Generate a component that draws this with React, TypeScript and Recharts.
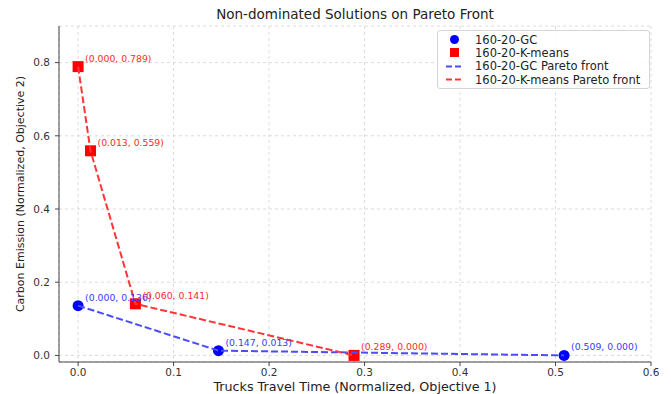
import {
  ScatterChart,
  Scatter,
  XAxis,
  YAxis,
  CartesianGrid,
  Legend,
} from 'recharts';

const gcX = [0.0, 0.147, 0.509];
const gcY = [0.136, 0.013, 0.0];
const kmX = [0.0, 0.013, 0.06, 0.289];
const kmY = [0.789, 0.559, 0.141, 0.0];

const xTicks = [0, 0.1, 0.2, 0.3, 0.4, 0.5, 0.6];
const yTicks = [0, 0.2, 0.4, 0.6, 0.8];

const seriesNames = ['160-20-GC', '160-20-K-means', '160-20-GC Pareto front', '160-20-K-means Pareto front'];

const gcData = gcX.map((x, i) => ({ x, y: gcY[i] }));
const kmData = kmX.map((x, i) => ({ x, y: kmY[i] }));

const FONT = '"DejaVu Sans", sans-serif';
const BLUE = '#0000ff';
const RED = '#ff0000';
const BLUE_LINE = '#4b4bff';
const RED_LINE = '#ff3535';
const AXIS = '#444';

const Circle = (props: any) => <circle cx={props.cx} cy={props.cy} r={5.5} fill={BLUE} />;
const Square = (props: any) => (
  <rect x={props.cx - 5.5} y={props.cy - 5.5} width={11} height={11} fill={RED} />
);
const NoMark = () => <g />;

const annotate = (color: string) => (props: any) => {
  const p = props.payload;
  return (
    <text x={props.cx + 7} y={props.cy - 5} fontSize={9.3} fill={color} fontFamily={FONT}>
      {`(${p.x.toFixed(3)}, ${p.y.toFixed(3)})`}
    </text>
  );
};

const LegendBox = () => (
  <div
    style={{
      border: '1px solid #d4d4d4',
      borderRadius: 3,
      background: 'rgba(255,255,255,0.85)',
      padding: '2px 0',
      fontFamily: FONT,
      fontSize: 11.5,
      color: '#222',
    }}
  >
    {seriesNames.map((name, i) => (
      <div key={name} style={{ display: 'flex', alignItems: 'center', height: 13.3 }}>
        <svg width={37} height={13} style={{ flex: 'none' }}>
          {i === 0 && <circle cx={16.5} cy={6.5} r={4.5} fill={BLUE} />}
          {i === 1 && <rect x={12} y={2} width={9} height={9} fill={RED} />}
          {i > 1 && (
            <line x1={8} x2={25} y1={6.5} y2={6.5} stroke={i === 2 ? BLUE_LINE : RED_LINE} strokeWidth={2} strokeDasharray="6 3" />
          )}
        </svg>
        <span style={{ whiteSpace: 'nowrap' }}>{name}</span>
      </div>
    ))}
  </div>
);

export default function App() {
  return (
    <div style={{ position: 'absolute', left: 0, top: 0, width: 671, height: 394, background: '#fff' }}>
      <div
        style={{
          position: 'absolute',
          left: 59,
          width: 592,
          top: 6,
          textAlign: 'center',
          fontFamily: FONT,
          fontSize: 13.5,
          lineHeight: '16px',
          color: '#222',
        }}
      >
        Non-dominated Solutions on Pareto Front
      </div>
      <ScatterChart width={671} height={394} margin={{ top: 26, right: 20, left: 0, bottom: 0 }}>
        <CartesianGrid stroke="#dcdcdc" strokeDasharray="3 3" />
        <XAxis
          dataKey="x"
          type="number"
          domain={[-0.02, 0.6]}
          ticks={xTicks}
          allowDataOverflow
          height={32}
          tickFormatter={(v: number) => v.toFixed(1)}
          tick={{ fontSize: 10.5, fill: '#333', fontFamily: FONT }}
          tickSize={4}
          tickMargin={3}
          stroke={AXIS}
          label={{
            value: 'Trucks Travel Time (Normalized, Objective 1)',
            position: 'insideBottom',
            offset: 3,
            style: { fontSize: 12.7, fill: '#222', fontFamily: FONT },
          }}
        />
        <XAxis
          xAxisId="top"
          orientation="top"
          type="number"
          domain={[-0.02, 0.6]}
          allowDataOverflow
          height={0}
          tick={false}
          tickLine={false}
          stroke={AXIS}
        />
        <YAxis
          dataKey="y"
          type="number"
          domain={[-0.018, 0.9]}
          ticks={yTicks}
          allowDataOverflow
          width={59}
          tickFormatter={(v: number) => v.toFixed(1)}
          tick={{ fontSize: 10.5, fill: '#333', fontFamily: FONT }}
          tickSize={4}
          tickMargin={5}
          stroke={AXIS}
          label={{
            value: 'Carbon Emission (Normalized, Objective 2)',
            angle: -90,
            position: 'insideLeft',
            offset: 20,
            style: { textAnchor: 'middle', fontSize: 11, fill: '#222', fontFamily: FONT },
          }}
        />
        <YAxis
          yAxisId="right"
          orientation="right"
          type="number"
          domain={[-0.018, 0.9]}
          allowDataOverflow
          width={0}
          tick={false}
          tickLine={false}
          stroke={AXIS}
        />
        <Legend
          layout="horizontal"
          align="center"
          verticalAlign="middle"
          content={<LegendBox />}
          wrapperStyle={{ top: 30, left: 437, width: 213, height: 58 }}
        />
        <Scatter name={seriesNames[0]} data={gcData} shape={Circle} isAnimationActive={false} />
        <Scatter name={seriesNames[1]} data={kmData} shape={Square} isAnimationActive={false} />
        <Scatter
          name={seriesNames[2]}
          data={gcData}
          shape={NoMark}
          line={{ stroke: BLUE_LINE, strokeWidth: 2, strokeDasharray: '7 3' }}
          lineType="joint"
          isAnimationActive={false}
        />
        <Scatter
          name={seriesNames[3]}
          data={kmData}
          shape={NoMark}
          line={{ stroke: RED_LINE, strokeWidth: 2, strokeDasharray: '7 3' }}
          lineType="joint"
          isAnimationActive={false}
        />
        <Scatter data={gcData} shape={annotate('#3a3aff')} isAnimationActive={false} legendType="none" />
        <Scatter data={kmData} shape={annotate('#ff2a2a')} isAnimationActive={false} legendType="none" />
      </ScatterChart>
    </div>
  );
}
